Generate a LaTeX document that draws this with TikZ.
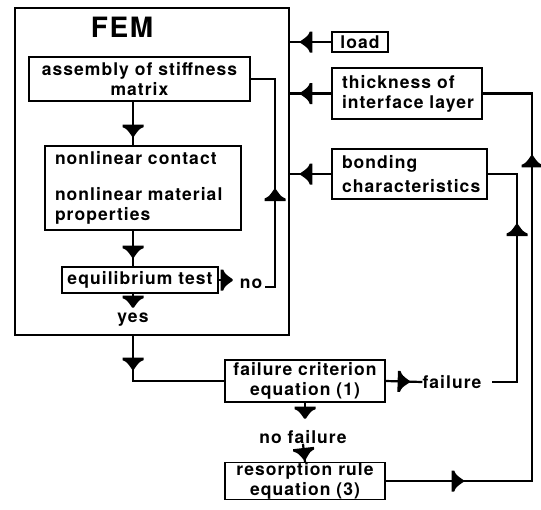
\documentclass[tikz,border=0pt]{standalone}
\usepackage{fontspec}
\setmainfont{TeX Gyre Heros}[LetterSpace=6.0]
\usetikzlibrary{decorations.markings}
\tikzset{
  txt/.style={font=\bfseries\fontsize{17.5}{20}\selectfont},
  boxn/.style={draw, line width=1.3pt, inner sep=0pt, txt},
  lbl/.style={inner sep=0pt, txt},
  conn/.style={line width=2.2pt},
  flowmark/.style={postaction={decorate,decoration={markings,
     mark=at position #1 with {\fill (-6pt,-10.5pt) -- (-3.5pt,-10.5pt) .. controls (-1.5pt,-6pt) .. (6pt,-0.8pt)
        -- (6pt,0.8pt) .. controls (-1.5pt,6pt) .. (-3.5pt,10.5pt) -- (-6pt,10.5pt) -- cycle;}}}},
}
\begin{document}
\begin{tikzpicture}[x=1pt,y=-1pt]
\useasboundingbox (0,0) rectangle (541,509);
% FEM container
\node[draw, line width=1.3pt, minimum width=274pt, minimum height=327pt, inner sep=0pt] (fem) at (152,171.5) {};
\node[inner sep=0pt, font=\bfseries\fontsize{28}{30}\selectfont] (femlbl) at (122,27) {FEM};
% boxes
\node[boxn, minimum width=221pt, minimum height=44pt, align=center] (asm) at (139.5,79) {assembly of stiffness\\matrix};
\node[boxn, minimum height=84pt, inner xsep=10pt, text width=176pt, align=left] (nonlin) at (143,188)
  {nonlinear contact\\[16pt]nonlinear material\\properties};
\node[boxn, minimum width=156pt, minimum height=26pt] (equil) at (140,280) {equilibrium test};
\node[lbl] (yes) at (133,320) {yes};
\node[lbl] (no) at (251,284) {no};
\node[boxn, minimum width=56pt, minimum height=20pt] (load) at (360,42) {load};
\node[boxn, minimum height=51pt, inner xsep=10pt, text width=130pt, align=left] (thick) at (407,93.5)
  {\mbox{thickness of}\\\mbox{interface layer}};
\node[boxn, minimum height=50pt, inner xsep=10pt, text width=135pt, align=left,
      font=\bfseries\fontsize{17.5}{24}\selectfont] (bond) at (409.5,174)
  {bonding\\\mbox{characteristics}};
\node[boxn, minimum width=160pt, minimum height=42pt, align=center] (fail) at (305,381)
  {failure criterion\\equation (1)};
\node[lbl] (failtxt) at (452,382) {failure};
\node[lbl] (nofail) at (303,437) {no failure};
\node[boxn, minimum width=160pt, minimum height=36pt, align=center] (resorb) at (305,481)
  {resorption rule\\equation (3)};
% helper coordinates
\coordinate (col) at (133,0);
\coordinate (eqout) at (231,280);
\coordinate (noend) at (265,287);
\coordinate (loopx) at (275,0);
\coordinate (yestop) at (133,307);
\coordinate (failout) at (305,418);
\coordinate (fr) at (492,382);
\coordinate (bcol) at (517,0);
\coordinate (tcol) at (532,0);
% connectors
\draw[conn, flowmark=29pt] (asm.south -| col) -- (nonlin.north -| col);
\draw[conn, flowmark=21pt] (nonlin.south -| col) -- (equil.north -| col);
\draw[conn, flowmark=8pt] (equil.south -| col) -- (yestop);
\draw[conn, flowmark=8pt] (equil.east) -- (eqout);
\draw[conn, flowmark=102pt] (noend) -| (loopx |- asm.east) -- (asm.east);
\draw[conn, flowmark=28pt] (fem.south -| col) |- (fail.west);
\draw[conn, flowmark=25pt] (load.west) -- (load.west -| fem.east);
\draw[conn, flowmark=25pt] (thick.west) -- (thick.west -| fem.east);
\draw[conn, flowmark=25pt] (bond.west) -- (bond.west -| fem.east);
\draw[conn, flowmark=18pt] (fail.east) -- (failtxt.west);
\draw[conn, flowmark=177pt] (fr) -| (bcol |- bond.east) -- (bond.east);
\draw[conn, flowmark=10pt] (fail.south) -- (failout);
\draw[conn, flowmark=-8pt] (nofail.south) -- (resorb.north);
\draw[conn, flowmark=72pt, flowmark=466pt] (resorb.east) -| (tcol |- thick.east) -- (thick.east);
\end{tikzpicture}
\end{document}
